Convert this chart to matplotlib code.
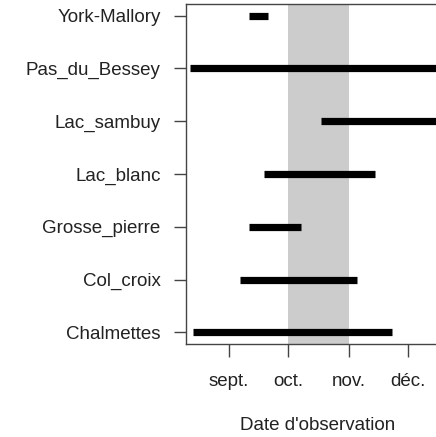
import matplotlib
matplotlib.use("Agg")
import matplotlib.pyplot as plt

plt.rcParams['font.family'] = ['Liberation Sans', 'DejaVu Sans']

# sites from bottom to top, observation period as day of year
sites = ["Chalmettes", "Col_croix", "Grosse_pierre", "Lac_blanc",
         "Lac_sambuy", "Pas_du_Bessey", "York-Mallory"]
first_day = [225.5, 249.6, 254.3, 261.7, 290.8, 224.3, 254.2]
last_day = [326.8, 309.0, 280.8, 318.3, 365.0, 365.0, 263.7]

month_days = [244, 274, 305, 335]
month_labels = ["sept.", "oct.", "nov.", "déc."]
band = (274, 305)

fig = plt.figure(figsize=(4.36, 4.37), dpi=100)
ax = fig.add_axes([0.426, 0.2128, 0.6216, 0.778])

ax.axvspan(band[0], band[1], color='#cccccc', lw=0, zorder=0)

rows = list(range(1, len(sites) + 1))
ax.hlines(rows, first_day, last_day, colors='black', linewidth=5.2, zorder=2)

ax.set_xlim(222, 360)
ax.set_ylim(0.78, 7.22)

ax.set_yticks(rows)
ax.set_yticklabels(sites)
ax.set_xticks(month_days)
ax.set_xticklabels(month_labels)

for s in ax.spines.values():
    s.set_color('#444444')
    s.set_linewidth(1.0)

ax.tick_params(axis='y', length=9, width=1, color='#444444', pad=9,
               labelsize=13.5, labelcolor='#222222')
ax.tick_params(axis='x', length=9, width=1, color='#444444', pad=12,
               labelsize=13.5, labelcolor='#222222')

fig.text(318 / 436, 1 - 426 / 437, "Date d'observation", ha='center', va='center',
         fontsize=13.5, color='#222222')

fig.savefig("out.png", dpi=100)
